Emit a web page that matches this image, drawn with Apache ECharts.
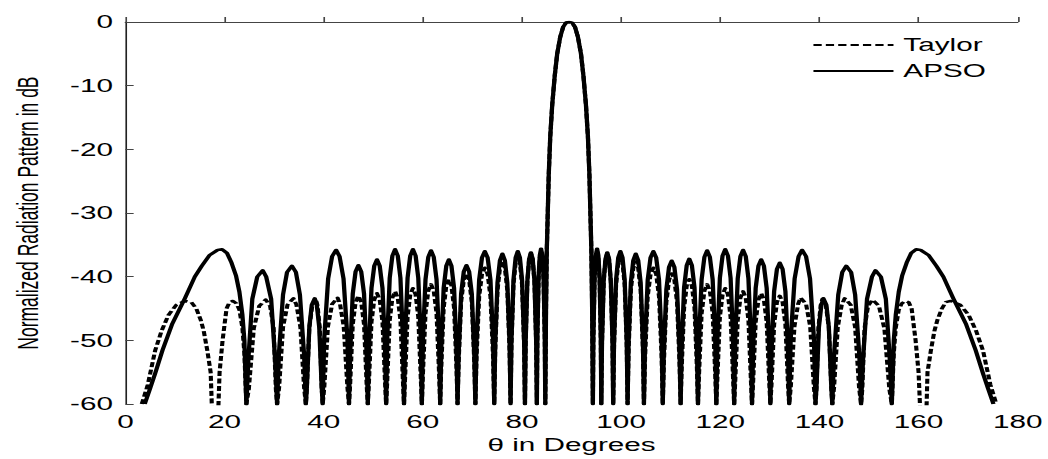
<!DOCTYPE html>
<html lang="en">
<head>
    <meta charset="UTF-8">
    <title>Taylor vs APSO</title>
    <script src="https://cdn.jsdelivr.net/npm/echarts@6/dist/echarts.min.js"></script>
    <style>
        html, body { margin: 0; padding: 0; background: #fff; overflow: hidden; }
        /* the source figure was drawn narrow and stretched sideways, so do the same */
        #chart { width: 635px; height: 459px; transform: scaleX(1.65); transform-origin: 0 0; }
    </style>
</head>
<body>
<div id="chart"></div>
<script>
    var seriesNames = ['Taylor', 'APSO'];
    var xMin = 0, xMax = 180, xStep = 20;
    var yMin = -60, yMax = 0, yStep = 10;

    // main beam, same for both patterns
    var mainLobe = [[84.85,-45],[85.0,-36],[85.2,-30],[85.4,-24],[85.7,-18],[86.1,-13],[86.6,-8.5],[87.1,-5],[87.7,-2.4],[88.3,-0.8],[88.9,-0.1],[89.5,0],
        [90.1,-0.1],[90.7,-0.8],[91.3,-2.4],[91.9,-5],[92.4,-8.5],[92.9,-13],[93.3,-18],[93.6,-24],[93.8,-30],[94.0,-36],[94.15,-45],[94.3,-60]];

    // APSO side lobes, theta < 85
    var apsoLeft = [[3.9,-60],[5,-57.5],[6,-55.2],[7.5,-51.5],[9.4,-47.5],[12,-43.4],[14,-40],[15.4,-38.3],[17,-36.6],[18.6,-35.8],[19.5,-35.7],[20.5,-36.3],[21.4,-37.8],[22.3,-39.8],[23,-42.4],[23.6,-46],[24,-50],
        [24.4,-60],[24.8,-53],[25.6,-43.5],[26.6,-40],[27.7,-39],[28.4,-40],[29.4,-43.5],[30.2,-53],
        [30.6,-60],[30.95,-52.3],[31.8,-42.8],[32.6,-39.3],[33.6,-38.3],[34.4,-39.3],[35.2,-42.8],[36.05,-52.3],
        [36.4,-60],[36.6,-57.4],[37.1,-47.9],[37.6,-44.4],[38.2,-43.4],[38.6,-44.4],[39.1,-47.9],[39.6,-57.4],
        [39.8,-60],[40.1,-49.8],[40.9,-40.3],[41.7,-36.8],[42.5,-35.8],[43.2,-36.8],[44.0,-40.3],[44.8,-49.8],
        [45.1,-60],[45.33,-52.2],[45.86,-42.7],[46.43,-39.2],[47.0,-38.2],[47.57,-39.2],[48.14,-42.7],[48.67,-52.2],
        [48.9,-60],[49.12,-51.3],[49.64,-41.8],[50.2,-38.3],[50.75,-37.3],[51.3,-38.3],[51.86,-41.8],[52.38,-51.3],
        [52.6,-60],[52.82,-49.7],[53.32,-40.2],[53.86,-36.7],[54.4,-35.7],[54.94,-36.7],[55.48,-40.2],[55.98,-49.7],
        [56.2,-60],[56.42,-49.7],[56.92,-40.2],[57.46,-36.7],[58.0,-35.7],[58.54,-36.7],[59.08,-40.2],[59.58,-49.7],
        [59.8,-60],[60.02,-49.9],[60.54,-40.4],[61.1,-36.9],[61.65,-35.9],[62.2,-36.9],[62.76,-40.4],[63.28,-49.9],
        [63.5,-60],[63.71,-51.3],[64.2,-41.8],[64.73,-38.3],[65.25,-37.3],[65.77,-38.3],[66.3,-41.8],[66.79,-51.3],
        [67.0,-60],[67.22,-52.2],[67.72,-42.7],[68.26,-39.2],[68.8,-38.2],[69.34,-39.2],[69.88,-42.7],[70.38,-52.2],
        [70.6,-60],[70.83,-50],[71.36,-40.5],[71.93,-37],[72.5,-36],[73.07,-37],[73.64,-40.5],[74.17,-50],
        [74.4,-60],[74.6,-50.4],[75.06,-40.9],[75.56,-37.4],[76.05,-36.4],[76.54,-37.4],[77.04,-40.9],[77.5,-50.4],
        [77.7,-60],[77.87,-50],[78.28,-40.5],[78.72,-37],[79.15,-36],[79.58,-37],[80.02,-40.5],[80.43,-50],
        [80.6,-60],[80.74,-50.2],[81.08,-40.7],[81.44,-37.2],[81.8,-36.2],[82.16,-37.2],[82.52,-40.7],[82.86,-50.2],
        [83.0,-60],[83.1,-49.6],[83.34,-40.1],[83.6,-36.6],[83.85,-35.6],[84.1,-36.6],[84.36,-40.1],[84.6,-49.6],
        [84.7,-60]];

    // APSO side lobes, theta > 94
    var apsoRight = [[94.4,-49.6],[94.64,-40.1],[94.9,-36.6],[95.15,-35.6],[95.4,-36.6],[95.66,-40.1],[95.9,-49.6],
        [96.0,-60],[96.14,-50.2],[96.48,-40.7],[96.84,-37.2],[97.2,-36.2],[97.56,-37.2],[97.92,-40.7],[98.26,-50.2],
        [98.4,-60],[98.57,-50],[98.98,-40.5],[99.42,-37],[99.85,-36],[100.28,-37],[100.72,-40.5],[101.13,-50],
        [101.3,-60],[101.5,-50.4],[101.96,-40.9],[102.46,-37.4],[102.95,-36.4],[103.44,-37.4],[103.94,-40.9],[104.4,-50.4],
        [104.6,-60],[104.83,-50],[105.36,-40.5],[105.93,-37],[106.5,-36],[107.07,-37],[107.64,-40.5],[108.17,-50],
        [108.4,-60],[108.62,-51.5],[109.12,-42],[109.66,-38.5],[110.2,-37.5],[110.74,-38.5],[111.28,-42],[111.78,-51.5],
        [112.0,-60],[112.21,-51.2],[112.7,-41.7],[113.23,-38.2],[113.75,-37.2],[114.27,-38.2],[114.8,-41.7],[115.29,-51.2],
        [115.5,-60],[115.72,-49.9],[116.24,-40.4],[116.8,-36.9],[117.35,-35.9],[117.9,-36.9],[118.46,-40.4],[118.98,-49.9],
        [119.2,-60],[119.42,-49.7],[119.92,-40.2],[120.46,-36.7],[121.0,-35.7],[121.54,-36.7],[122.08,-40.2],[122.58,-49.7],
        [122.8,-60],[123.02,-49.8],[123.52,-40.3],[124.06,-36.8],[124.6,-35.8],[125.14,-36.8],[125.68,-40.3],[126.18,-49.8],
        [126.4,-60],[126.62,-51.3],[127.14,-41.8],[127.7,-38.3],[128.25,-37.3],[128.8,-38.3],[129.36,-41.8],[129.88,-51.3],
        [130.1,-60],[130.33,-51.8],[130.86,-42.3],[131.43,-38.8],[132.0,-37.8],[132.57,-38.8],[133.14,-42.3],[133.67,-51.8],
        [133.9,-60],[134.2,-49.8],[135.0,-40.3],[135.8,-36.8],[136.5,-35.8],[137.3,-36.8],[138.1,-40.3],[138.9,-49.8],
        [139.2,-60],[139.4,-57.4],[139.9,-47.9],[140.4,-44.4],[140.8,-43.4],[141.4,-44.4],[141.9,-47.9],[142.4,-57.4],
        [142.6,-60],[142.95,-52.3],[143.8,-42.8],[144.6,-39.3],[145.4,-38.3],[146.4,-39.3],[147.2,-42.8],[148.05,-52.3],
        [148.4,-60],[148.8,-53],[149.6,-43.5],[150.6,-40],[151.3,-39],[152.4,-40],[153.4,-43.5],[154.2,-53],
        [154.6,-60],[155.0,-50],[155.4,-46],[156.0,-42.4],[156.7,-39.8],[157.6,-37.8],[158.5,-36.3],[159.5,-35.7],[160.4,-35.8],[162.0,-36.6],[163.6,-38.3],[165.0,-40],[167.0,-43.4],[169.6,-47.5],[171.5,-51.5],[173.0,-55.2],[174.0,-57.5],[175.1,-60]];

    // Taylor side lobes, theta < 85
    var taylorLeft = [[3.3,-60],[4.5,-57],[6,-51.6],[7.3,-48.5],[8.7,-46],[10.3,-44.4],[12,-43.8],[13.3,-44],[14.3,-45],[15.2,-46.8],[15.8,-48.5],[16.5,-51.5],[17.2,-55],
        [18.1,-75],[19.0,-55],[19.6,-50],[20.4,-45],[21.0,-44],[21.7,-43.8],[22.4,-44.2],[23.0,-45.2],[23.6,-48],[24.0,-52],
        [24.4,-60],[24.9,-57.6],[25.9,-48.1],[27.0,-44.6],[28.3,-43.6],[29.2,-44.6],[29.9,-48.1],[30.35,-57.6],
        [30.6,-60],[31.0,-57.4],[31.8,-47.9],[32.7,-44.4],[33.9,-43.4],[34.5,-44.4],[35.3,-47.9],[36.05,-57.4],
        [36.4,-60],[36.6,-57.5],[37.1,-48],[37.7,-44.5],[38.4,-43.5],[38.75,-44.5],[39.2,-48],[39.6,-57.5],
        [39.8,-60],[40.12,-57.3],[40.86,-47.8],[41.7,-44.3],[42.8,-43.3],[43.3,-44.3],[44.04,-47.8],[44.78,-57.3],
        [45.1,-60],[45.33,-57],[45.86,-47.5],[46.43,-44],[47.0,-43],[47.57,-44],[48.14,-47.5],[48.67,-57],
        [48.9,-60],[49.12,-56.6],[49.64,-47.1],[50.2,-43.6],[50.75,-42.6],[51.3,-43.6],[51.86,-47.1],[52.38,-56.6],
        [52.6,-60],[52.82,-56.3],[53.32,-46.8],[53.86,-43.3],[54.4,-42.3],[54.94,-43.3],[55.48,-46.8],[55.98,-56.3],
        [56.2,-60],[56.42,-55.8],[56.92,-46.3],[57.46,-42.8],[58.0,-41.8],[58.54,-42.8],[59.08,-46.3],[59.58,-55.8],
        [59.8,-60],[60.02,-55.2],[60.54,-45.7],[61.1,-42.2],[61.65,-41.2],[62.2,-42.2],[62.76,-45.7],[63.28,-55.2],
        [63.5,-60],[63.71,-54.4],[64.2,-44.9],[64.73,-41.4],[65.25,-40.4],[65.77,-41.4],[66.3,-44.9],[66.79,-54.4],
        [67.0,-60],[67.22,-53.5],[67.72,-44],[68.26,-40.5],[68.8,-39.5],[69.34,-40.5],[69.88,-44],[70.38,-53.5],
        [70.6,-60],[70.83,-52.6],[71.36,-43.1],[71.93,-39.6],[72.5,-38.6],[73.07,-39.6],[73.64,-43.1],[74.17,-52.6],
        [74.4,-60],[74.6,-51.6],[75.06,-42.1],[75.56,-38.6],[76.05,-37.6],[76.54,-38.6],[77.04,-42.1],[77.5,-51.6],
        [77.7,-60],[77.87,-50.8],[78.28,-41.3],[78.72,-37.8],[79.15,-36.8],[79.58,-37.8],[80.02,-41.3],[80.43,-50.8],
        [80.6,-60],[80.74,-50.3],[81.08,-40.8],[81.44,-37.3],[81.8,-36.3],[82.16,-37.3],[82.52,-40.8],[82.86,-50.3],
        [83.0,-60],[83.1,-50],[83.34,-40.5],[83.6,-37],[83.85,-36],[84.1,-37],[84.36,-40.5],[84.6,-50],
        [84.7,-60]];

    // Taylor side lobes, theta > 94
    var taylorRight = [[94.4,-50],[94.64,-40.5],[94.9,-37],[95.15,-36],[95.4,-37],[95.66,-40.5],[95.9,-50],
        [96.0,-60],[96.14,-50.3],[96.48,-40.8],[96.84,-37.3],[97.2,-36.3],[97.56,-37.3],[97.92,-40.8],[98.26,-50.3],
        [98.4,-60],[98.57,-50.8],[98.98,-41.3],[99.42,-37.8],[99.85,-36.8],[100.28,-37.8],[100.72,-41.3],[101.13,-50.8],
        [101.3,-60],[101.5,-51.6],[101.96,-42.1],[102.46,-38.6],[102.95,-37.6],[103.44,-38.6],[103.94,-42.1],[104.4,-51.6],
        [104.6,-60],[104.83,-52.6],[105.36,-43.1],[105.93,-39.6],[106.5,-38.6],[107.07,-39.6],[107.64,-43.1],[108.17,-52.6],
        [108.4,-60],[108.62,-53.5],[109.12,-44],[109.66,-40.5],[110.2,-39.5],[110.74,-40.5],[111.28,-44],[111.78,-53.5],
        [112.0,-60],[112.21,-54.4],[112.7,-44.9],[113.23,-41.4],[113.75,-40.4],[114.27,-41.4],[114.8,-44.9],[115.29,-54.4],
        [115.5,-60],[115.72,-55.2],[116.24,-45.7],[116.8,-42.2],[117.35,-41.2],[117.9,-42.2],[118.46,-45.7],[118.98,-55.2],
        [119.2,-60],[119.42,-55.8],[119.92,-46.3],[120.46,-42.8],[121.0,-41.8],[121.54,-42.8],[122.08,-46.3],[122.58,-55.8],
        [122.8,-60],[123.02,-56.3],[123.52,-46.8],[124.06,-43.3],[124.6,-42.3],[125.14,-43.3],[125.68,-46.8],[126.18,-56.3],
        [126.4,-60],[126.62,-56.6],[127.14,-47.1],[127.7,-43.6],[128.25,-42.6],[128.8,-43.6],[129.36,-47.1],[129.88,-56.6],
        [130.1,-60],[130.33,-57],[130.86,-47.5],[131.43,-44],[132.0,-43],[132.57,-44],[133.14,-47.5],[133.67,-57],
        [133.9,-60],[134.22,-57.3],[134.96,-47.8],[135.7,-44.3],[136.2,-43.3],[137.3,-44.3],[138.14,-47.8],[138.88,-57.3],
        [139.2,-60],[139.4,-57.5],[139.8,-48],[140.25,-44.5],[140.6,-43.5],[141.3,-44.5],[141.9,-48],[142.4,-57.5],
        [142.6,-60],[142.95,-57.4],[143.7,-47.9],[144.5,-44.4],[145.1,-43.4],[146.3,-44.4],[147.2,-47.9],[148.0,-57.4],
        [148.4,-60],[148.65,-57.6],[149.1,-48.1],[149.8,-44.6],[150.7,-43.6],[152.0,-44.6],[153.1,-48.1],[154.1,-57.6],
        [154.6,-60],[155.0,-52],[155.4,-48],[156.0,-45.2],[156.6,-44.2],[157.3,-43.8],[158.0,-44],[158.6,-45],[159.4,-50],[160.0,-55],
        [161.1,-75],[161.8,-55],[162.5,-51.5],[163.2,-48.5],[163.8,-46.8],[164.7,-45],[165.5,-44],[166.5,-43.8],[168.4,-44.4],[170.1,-46],[171.6,-48.5],[173.0,-51.6],[174.5,-57],[175.7,-60]];

    var font = "'Liberation Sans', Arial, Helvetica, sans-serif";

    var myChart = echarts.init(document.getElementById('chart'), null, {renderer: 'svg'});
    myChart.setOption({
        animation: false,
        backgroundColor: '#fff',
        textStyle: {fontFamily: font},
        grid: {left: 72.7, right: 18.2, top: 22, bottom: 47.5},
        legend: {
            data: seriesNames,
            orient: 'vertical',
            left: 487,
            top: 31,
            itemWidth: 48.5,
            itemHeight: 14,
            itemGap: 8,
            // hide the marker that ECharts puts in the middle of a line icon
            itemStyle: {opacity: 0},
            textStyle: {fontFamily: font, fontSize: 18, color: '#000', lineHeight: 18, padding: [0, 0, 0, 1]}
        },
        xAxis: {
            type: 'value',
            min: xMin, max: xMax, interval: xStep,
            name: 'θ in Degrees',
            nameLocation: 'middle',
            nameGap: 28,
            nameTextStyle: {fontFamily: font, fontSize: 18, color: '#000'},
            axisLine: {show: true, lineStyle: {color: '#444', width: 1}},
            axisTick: {show: true, inside: true, length: 5, lineStyle: {color: '#444'}},
            axisLabel: {fontFamily: font, fontSize: 18, color: '#000', margin: 9},
            splitLine: {show: false}
        },
        yAxis: {
            type: 'value',
            min: yMin, max: yMax, interval: yStep,
            name: 'Normalized Radiation Pattern in dB',
            nameLocation: 'middle',
            nameGap: 50,
            nameTextStyle: {fontFamily: font, fontSize: 17.5, color: '#000'},
            axisLine: {show: true, lineStyle: {color: '#222', width: 1}},
            axisTick: {show: true, inside: true, length: 5, lineStyle: {color: '#444'}},
            axisLabel: {fontFamily: font, fontSize: 18, color: '#000', margin: 7.5},
            splitLine: {show: false}
        },
        series: [{
            name: 'Taylor',
            type: 'line',
            symbol: 'none',
            clip: true,
            data: taylorLeft.concat(mainLobe, taylorRight),
            lineStyle: {color: '#000', width: 2.5, type: [5, 2.5], join: 'round'},
            itemStyle: {color: '#000'},
            z: 2
        }, {
            name: 'APSO',
            type: 'line',
            symbol: 'none',
            clip: true,
            data: apsoLeft.concat(mainLobe, apsoRight),
            lineStyle: {color: '#000', width: 2.6, join: 'round'},
            itemStyle: {color: '#000'},
            z: 3
        }]
    });
</script>
</body>
</html>
